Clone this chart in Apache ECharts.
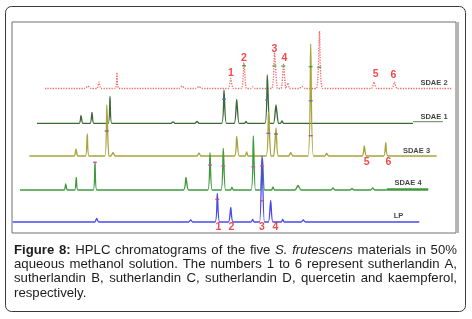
<!DOCTYPE html>
<html>
<head>
<meta charset="utf-8">
<script src="https://cdn.jsdelivr.net/npm/echarts@6/dist/echarts.min.js"></script>
<style>
html,body{margin:0;padding:0;background:#fff;}
#chart{width:472px;height:319px;}
</style>
</head>
<body>
<div id="chart"></div>
<script>
// ---- data (x: retention position, y: detector signal position) ----
const traceNames = ['SDAE 2', 'SDAE 1', 'SDAE 3', 'SDAE 4', 'LP'];
const traceBaselines = [88.5, 123.3, 156, 190, 222];
const traceStart = [45, 37, 29.3, 20, 12.7];
const traceEnd = [452, 413, 436.7, 386.7, 419.3];

// peaks: [apex position, apex signal, half base width]
const sdae2Peaks = [[88,86,3],[99,82,2],[117,72.5,1.8],[182,86,3],[199,86.5,3],[230.7,78.5,2.6],[244,62.5,2.4],[253,87,2],[274.5,52.5,3],[283.5,64.5,2.3],[288,83,1.6],[302,86.5,3],[319.5,31,3.2],[374,82,2.6],[394.5,82,2.6]];
const sdae1Peaks = [[81,115.5,1.8],[92,112.5,1.8],[110,96.5,1.8],[173,121.8,2],[197,121.5,2],[224,90,2.4],[236.7,99.3,2.4],[246,121.5,1.5],[267.3,75,2.4],[276,105,2.4],[282,121,1.5]];
const sdae3Peaks = [[76,149,1.8],[87.3,134,1.8],[106.8,105,2],[113,152.5,2],[199,153,2],[236.7,136.5,2.4],[246.7,152,1.5],[268.5,112,2.4],[276,128,2.4],[290.7,152.5,2],[310.7,44,2.8],[326.7,153.5,2],[364.3,146,2.2],[385.8,142.7,2.2]];
const sdae4Peaks = [[65.7,184,1.6],[76.3,177.3,1.6],[95,161.7,1.8],[186,177.3,2.6],[210,152.7,2.2],[223.3,148.3,2.2],[232,187.5,1.5],[253.3,136,2.2],[262.5,158,2.2],[273,187,1.5],[298,185.5,3],[333,188,2],[352,188.5,2],[372.7,188,2]];
const lpPeaks = [[96.7,218.3,2],[190.7,220,2],[217.3,193.5,2.3],[230.8,207.5,2.3],[252.7,219.3,1.5],[262,156,2.4],[270.7,200.5,2.2],[282.7,219.5,1.5],[303.3,220,2]];
const sdae1Tail = [[413,121.7],[443,121.7]];
const sdae4Tail = [[386.7,189.5],[428.3,189.5]];

// compound number labels: [x, y, text]
const peakNumbers = [
  [231,73,'1'],[244,58,'2'],[274.5,49,'3'],[284.5,58,'4'],[375.6,74,'5'],[393.4,75.5,'6'],
  [366.7,161.7,'5'],[388.3,161.7,'6'],
  [218.3,227.5,'1'],[231.3,227.5,'2'],[262,227.5,'3'],[275.5,227.5,'4']
];
const traceLabelPos = [[434,83.3],[434,117.3],[416.5,150.5],[408,182.5],[398.5,216]];

// integration marks on peaks: [x, y]
const marksSdae2 = [[244,65.7],[274.3,66],[283.3,66],[319.3,67.3],[310.7,66.7]];
const marksSdae1 = [[224,99.3],[267,100],[310.7,100.7]];
const marksSdae3 = [[106.7,131],[268.3,133.3],[276,134],[310.7,135.7]];
const marksSdae4 = [[95,162.3],[210,165],[223.3,166],[253.3,166.7],[262,166]];
const marksLp = [[217.3,199.3],[262,200.7]];

const captionLines = [
  "**Figure 8:** HPLC chromatograms of the five _S. frutescens_ materials in 50%",
  "aqueous methanol solution. The numbers 1 to 6 represent sutherlandin A,",
  "sutherlandin B, sutherlandin C, sutherlandin D, quercetin and kaempferol,",
  "respectively."
];

// ---- build ----
function buildTrace(i, peaks) {
  const b = traceBaselines[i];
  const pts = [[traceStart[i], b]];
  peaks.forEach(p => { pts.push([p[0]-p[2], b], [p[0], p[1]], [p[0]+p[2], b]); });
  pts.push([traceEnd[i], b]);
  return pts;
}
const allPeaks = [sdae2Peaks, sdae1Peaks, sdae3Peaks, sdae4Peaks, lpPeaks];
const colors = ['#f06a6a', '#3b6a35', '#a9a43a', '#3f9a3f', '#4a4aee'];

const chart = echarts.init(document.getElementById('chart'), null, {renderer:'canvas'});

const series = [];
allPeaks.forEach((pk, i) => {
  series.push({
    type:'line', name: traceNames[i], data: buildTrace(i, pk), symbol:'none', silent:true,
    smooth: 0.2,
    lineStyle:{ color: colors[i], width: i===0 ? 1.3 : 1.35, type: i===0 ? 'dotted' : 'solid' },
    z: 2 + i
  });
});
series.push({type:'line', data: sdae1Tail, symbol:'none', lineStyle:{color:'#7f9f7a', width:1.2}, z:3});
series.push({type:'line', data: sdae4Tail, symbol:'none', lineStyle:{color:'#3f9a3f', width:2.6}, z:5});

function markSeries(data, color) {
  return {type:'scatter', data, symbol:'rect', symbolSize:[4,1.4], itemStyle:{color}, z:8, silent:true};
}
series.push(markSeries(marksSdae2, '#2e9a2e'));
series.push(markSeries(marksSdae1, '#5a6ae0'));
series.push(markSeries(marksSdae3, '#a040b0'));
series.push(markSeries(marksSdae4, '#e040c0'));
series.push(markSeries(marksLp, '#e04040'));

series.push({
  type:'scatter', data: peakNumbers, symbolSize:0, z:10, silent:true,
  label:{ show:true, position:'inside', formatter: p => p.value[2], color:'#ee1c1c',
    fontSize:10.5, fontWeight:'bold', fontFamily:'Liberation Sans' }
});
series.push({
  type:'scatter', data: traceLabelPos.map((p, i) => [p[0], p[1], traceNames[i]]), symbolSize:0, z:10, silent:true,
  label:{ show:true, position:'inside', formatter: p => p.value[2], color:'#111',
    fontSize:7.5, fontWeight:'bold', fontFamily:'Liberation Sans' }
});

// caption layout (justified)
const cv = document.createElement('canvas').getContext('2d');
const capSize = 13.2, capLeft = 14, capRight = 457, capTop = 250, capLead = 14.3;
const graphics = [];
graphics.push({type:'rect', shape:{x:5.5, y:6.5, width:460, height:305, r:6}, style:{fill:'none', stroke:'#3a3a3a', lineWidth:1}, z:0});
graphics.push({type:'rect', shape:{x:456, y:22, width:3, height:211}, style:{fill:'#b4b4b4'}, z:1});
captionLines.forEach((line, li) => {
  let bold=false, ital=false;
  const words = line.split(' ').map(w => {
    let t = w, b, it;
    if (t.startsWith('**')) { bold = true; t = t.slice(2); }
    if (t.startsWith('_')) { ital = true; t = t.slice(1); }
    b = bold; it = ital;
    if (t.endsWith('**')) { bold = false; t = t.slice(0, -2); }
    if (t.endsWith('_')) { ital = false; t = t.slice(0, -1); }
    cv.font = (it?'italic ':'') + (b?'bold ':'') + capSize + 'px "Liberation Sans"';
    return {t, b, it, w: cv.measureText(t).width};
  });
  cv.font = capSize + 'px "Liberation Sans"';
  const sp = cv.measureText(' ').width;
  const total = words.reduce((s, w) => s + w.w, 0);
  const last = li === captionLines.length - 1;
  const gap = last ? sp : Math.max(sp * 0.8, (capRight - capLeft - total) / (words.length - 1));
  let x = capLeft;
  const y = capTop + li * capLead;
  words.forEach(w => {
    graphics.push({type:'text', x, y, z:5, silent:true, style:{
      text:w.t, fontSize:capSize, fontFamily:'Liberation Sans', fontWeight:w.b?'bold':'normal',
      fontStyle:w.it?'italic':'normal', fill:'#1c1c1c', verticalAlign:'middle', align:'left'}});
    x += w.w + gap;
  });
});

chart.setOption({
  animation:false,
  backgroundColor:'#fff',
  grid:{ left:12, top:22, width:444, height:211, show:true, borderColor:'#707070', borderWidth:1, backgroundColor:'#fff' },
  xAxis:{ type:'value', min:12, max:456, show:false },
  yAxis:{ type:'value', min:22, max:233, inverse:true, show:false },
  series,
  graphic: graphics
});
</script>
</body>
</html>
